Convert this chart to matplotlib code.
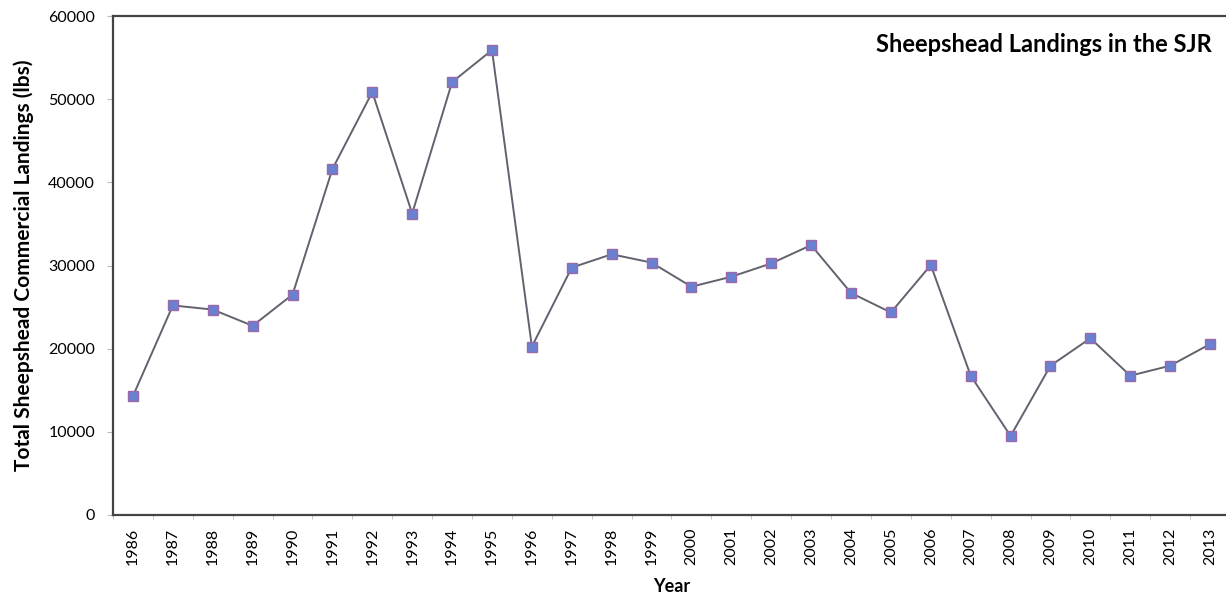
import numpy as np
import matplotlib.pyplot as plt

plt.rcParams['font.family'] = ['Lato', 'DejaVu Sans']

years = [str(y) for y in range(1986, 2014)]
landings = [14300, 25200, 24700, 22750, 26500, 41600, 50850, 36250,
            52050, 55900, 20250, 29750, 31350, 30350, 27450, 28650,
            30250, 32450, 26700, 24350, 30050, 16750, 9500, 17950,
            21250, 16750, 17950, 20550]
y_ticks = [0, 10000, 20000, 30000, 40000, 50000, 60000]

W, H = 1226, 598
fig = plt.figure(figsize=(W / 100, H / 100), dpi=100)
ax = fig.add_axes([113 / W, (H - 515) / H, (1230 - 113) / W, (515 - 16) / H])

x = np.arange(len(years))
ax.plot(x, landings, color='#62626e', linewidth=1.4, marker='s',
        markersize=7.5, markerfacecolor='#6a80d0', markeredgecolor='#9a6aa8',
        markeredgewidth=1.0, zorder=3)

ax.set_xlim(-0.5, len(years) - 0.5)
ax.set_ylim(0, 60000)
ax.set_yticks(y_ticks)
ax.set_yticklabels([str(v) for v in y_ticks], fontsize=11.5)
ax.set_xticks(x)
ax.set_xticklabels(years, rotation=90, fontsize=11.5)
ax.set_xticks(np.arange(-0.5, len(years), 1), minor=True)
ax.tick_params(axis='x', which='major', length=0, pad=9)
ax.tick_params(axis='x', which='minor', length=3, color='#bbbbbb')
ax.tick_params(axis='y', length=4, color='#bbbbbb', pad=9)

for side in ['left', 'bottom', 'top']:
    ax.spines[side].set_color('#444444')
    ax.spines[side].set_linewidth(1.6)
ax.spines['right'].set_visible(False)

ax.set_xlabel('Year', fontsize=13, fontweight='bold', labelpad=9)
ax.set_ylabel('Total Sheepshead Commercial Landings (lbs)', fontsize=15,
              fontweight='bold', labelpad=10)

fig.text(1212 / W, 1 - 45 / H, 'Sheepshead Landings in the SJR',
         fontsize=17, fontweight='bold', ha='right', va='center')

fig.savefig('out.png', dpi=100)
